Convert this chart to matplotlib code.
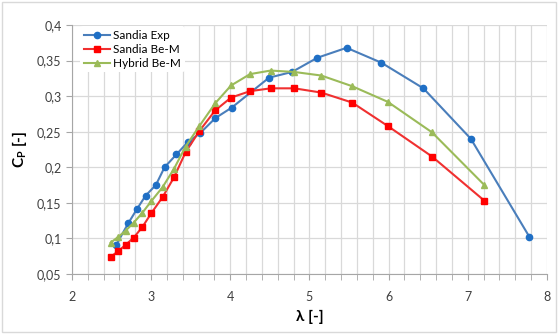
"""Power coefficient vs tip speed ratio: Sandia experiment and two BEM models."""

import matplotlib
matplotlib.use("Agg")
import matplotlib.pyplot as plt
from matplotlib.patches import Rectangle
from matplotlib.ticker import FuncFormatter, MultipleLocator

# Sandia experimental data
exp_tsr = [2.56, 2.71, 2.82, 2.93, 3.06, 3.17, 3.32, 3.46, 3.62, 3.81, 4.02,
           4.49, 4.78, 5.10, 5.47, 5.91, 6.44, 7.04, 7.78]
exp_cp = [0.091, 0.121, 0.141, 0.160, 0.175, 0.200, 0.218, 0.235, 0.248, 0.269,
          0.284, 0.326, 0.334, 0.354, 0.368, 0.347, 0.311, 0.240, 0.102]

# BEM runs share the same tip speed ratios
bem_tsr = [2.49, 2.585, 2.68, 2.78, 2.89, 3.0, 3.145, 3.29, 3.435, 3.61, 3.81,
           4.01, 4.25, 4.51, 4.81, 5.15, 5.54, 5.99, 6.55, 7.21]
sandia_bem_cp = [0.074, 0.082, 0.091, 0.101, 0.116, 0.135, 0.158, 0.186, 0.221,
                 0.251, 0.280, 0.298, 0.307, 0.311, 0.311, 0.305, 0.291, 0.258,
                 0.215, 0.153]
hybrid_bem_cp = [0.094, 0.102, 0.111, 0.122, 0.136, 0.152, 0.172, 0.198, 0.229,
                 0.258, 0.290, 0.315, 0.331, 0.336, 0.334, 0.329, 0.314, 0.292,
                 0.249, 0.175]

fig = plt.figure(figsize=(5.58, 3.34), dpi=100)
ax = fig.add_axes([0.129, 0.18, 0.851, 0.745])
fig.patches.append(Rectangle((0.004, 0.006), 0.992, 0.988, transform=fig.transFigure,
                             fill=False, edgecolor="#d9d9d9", lw=1.0))

font = "Lato"
ax.plot(exp_tsr, exp_cp, color="#4a7ebb", lw=1.5, marker="o", ms=4.5,
        mfc="#1f6fc5", mec="#1f6fc5", label="Sandia Exp", zorder=3)
ax.plot(bem_tsr, sandia_bem_cp, color="#f03030", lw=1.5, marker="s", ms=4.5,
        mfc="#ff0000", mec="#ff0000", label="Sandia Be-M", zorder=3)
ax.plot(bem_tsr, hybrid_bem_cp, color="#9bbb59", lw=1.5, marker="^", ms=4.5,
        mfc="#9bbb59", mec="#9bbb59", label="Hybrid Be-M", zorder=3)

ax.set_xlim(2, 8)
ax.set_ylim(0.05, 0.4)
ax.xaxis.set_major_locator(MultipleLocator(1))
ax.xaxis.set_minor_locator(MultipleLocator(0.2))
ax.yaxis.set_major_locator(MultipleLocator(0.05))
ax.yaxis.set_major_formatter(FuncFormatter(lambda v, _: f"{v:.2f}".rstrip("0").replace(".", ",")))
ax.grid(True, which="both", color="#d9d9d9", lw=0.9)
ax.set_axisbelow(True)

for side in ["top", "right"]:
    ax.spines[side].set_visible(False)
for side in ["left", "bottom"]:
    ax.spines[side].set_color("#a6a6a6")
ax.tick_params(which="both", color="#a6a6a6", length=4, direction="out")
ax.tick_params(axis="x", which="major", length=4, pad=8)
ax.tick_params(labelsize=9, labelcolor="#404040")
for lbl in ax.get_xticklabels() + ax.get_yticklabels():
    lbl.set_fontfamily(font)

ax.set_xlabel("λ [-]", fontsize=11, fontweight="bold", fontfamily=font, labelpad=5)
ax.set_ylabel(r"C$_\mathregular{P}$ [-]", fontsize=11, fontweight="bold",
              fontfamily=font, labelpad=6)

leg = ax.legend(loc="upper left", bbox_to_anchor=(0.015, 1.0), frameon=True,
                prop={"family": font, "size": 8.5}, handlelength=2.2,
                borderaxespad=0.1, borderpad=0.3, labelspacing=0.25,
                handletextpad=0.3)
leg.get_frame().set_edgecolor("none")
leg.get_frame().set_facecolor("white")
leg.get_frame().set_alpha(1)

fig.savefig("out.png", dpi=100)
